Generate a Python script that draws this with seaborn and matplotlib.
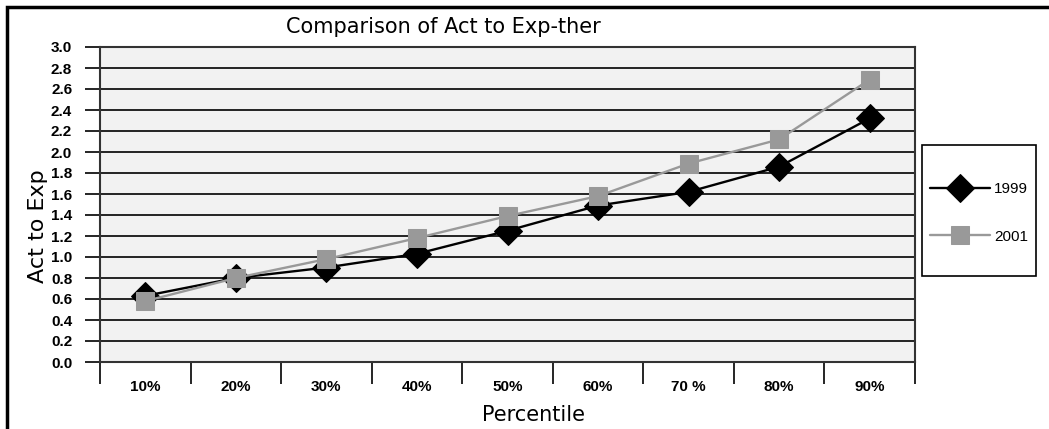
import numpy as np
import pandas as pd
import matplotlib
matplotlib.use("Agg")
import matplotlib.pyplot as plt
import seaborn as sns
from matplotlib.patches import Rectangle

percentiles = ["10%", "20%", "30%", "40%", "50%", "60%", "70 %", "80%", "90%"]
act_1999 = [0.63, 0.80, 0.90, 1.03, 1.25, 1.49, 1.62, 1.86, 2.32]
act_2001 = [0.58, 0.80, 0.98, 1.18, 1.39, 1.58, 1.89, 2.12, 2.69]
yticks = [0.0, 0.2, 0.4, 0.6, 0.8, 1.0, 1.2, 1.4, 1.6, 1.8, 2.0, 2.2, 2.4, 2.6, 2.8, 3.0]

sns.set_style("white")
plt.rcParams['font.family'] = ['Liberation Sans', 'DejaVu Sans']
plt.rcParams['text.color'] = 'black'
plt.rcParams['axes.labelcolor'] = 'black'
plt.rcParams['xtick.labelcolor'] = 'black'
plt.rcParams['ytick.labelcolor'] = 'black'

df = pd.DataFrame({
    "pos": list(range(len(percentiles))) * 2,
    "value": act_1999 + act_2001,
    "year": ["1999"] * len(percentiles) + ["2001"] * len(percentiles),
})

fig = plt.figure(figsize=(10.49, 4.29), dpi=100)
ax = fig.add_axes([100 / 1049, 1 - 362 / 429, 815 / 1049, 315 / 429])
ax.set_facecolor("#f2f2f2")

sns.lineplot(data=df[df.year == "1999"], x="pos", y="value", color="black",
             marker="D", markersize=14, linewidth=1.7, markeredgecolor="black",
             label="1999", ax=ax)
sns.lineplot(data=df[df.year == "2001"], x="pos", y="value", color="#999999",
             marker="s", markersize=12.5, linewidth=1.7, markeredgecolor="#999999",
             label="2001", ax=ax)

ax.set_xlim(-0.5, len(percentiles) - 0.5)
ax.set_ylim(0, 3.0)
ax.set_yticks(yticks)
ax.set_yticklabels([f"{v:.1f}" for v in yticks], fontsize=11, fontweight="bold")
ax.tick_params(axis="y", left=True, length=11, width=1.2, color="black", pad=9)
ax.yaxis.grid(True, color="black", linewidth=1.2)
ax.set_axisbelow(True)

ax.set_xticks(range(len(percentiles)))
ax.set_xticklabels(percentiles, fontsize=11, fontweight="bold")
ax.tick_params(axis="x", which="major", length=0, pad=13)
ax.set_xticks(np.arange(-0.5, len(percentiles), 1.0), minor=True)
ax.tick_params(axis="x", which="minor", bottom=True, length=16, width=1.2,
               color="black")

for s in ax.spines.values():
    s.set_color("#333333")
    s.set_linewidth(1.5)

ax.set_xlabel("Percentile", fontsize=15, family="DejaVu Sans")
ax.xaxis.set_label_coords((534 - 100) / 815, -0.135)
ax.set_ylabel("Act to Exp", fontsize=16, family="DejaVu Sans")
ax.yaxis.set_label_coords(-0.064, 0.43)
fig.text(443 / 1049, 1 - 27 / 429, "Comparison of Act to Exp-ther",
         fontsize=15, family="DejaVu Sans", ha="center", va="center")

ax.legend_.remove()
handles, labels = ax.get_legend_handles_labels()
fig.legend(handles, labels, loc="center",
           bbox_to_anchor=(979 / 1049, 1 - 213 / 429), frameon=False,
           fontsize=11, handlelength=3.9, labelspacing=2.2, borderpad=0.2,
           handletextpad=0.3)

fig.patches.append(Rectangle((922 / 1049, 1 - 276 / 429), 114 / 1049, 131 / 429,
                             transform=fig.transFigure, fill=False,
                             edgecolor="black", linewidth=1.2))
fig.patches.append(Rectangle((7 / 1049, -0.05), 1.1, 1 - 7 / 429 + 0.05,
                             transform=fig.transFigure, fill=False,
                             edgecolor="black", linewidth=2.5))

fig.savefig("out.png", dpi=100)
